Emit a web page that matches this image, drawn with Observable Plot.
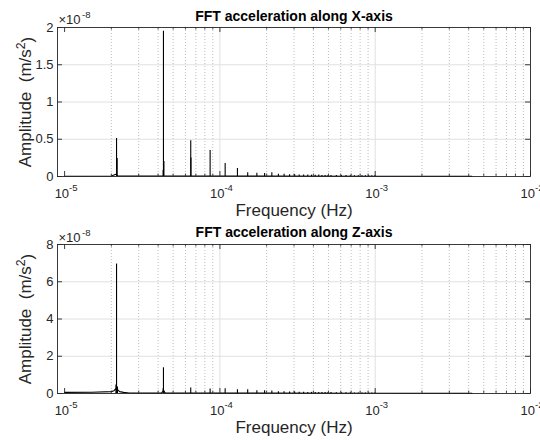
<!DOCTYPE html>
<html><head><meta charset="utf-8">
<script src="https://cdn.jsdelivr.net/npm/d3@7"></script>
<script src="https://cdn.jsdelivr.net/npm/@observablehq/plot@0.6"></script>
<style>
body{margin:0;background:#fff;}
#chart{width:540px;height:440px;overflow:hidden;}
#chart svg{display:block;}
</style></head><body><div id="chart"></div>
<script>
// ---- shared axis data ----
const xTickValues = [1e-5, 1e-4, 1e-3, 1e-2];
const xTickBase = "10";
const xTickExponents = ["-5", "-4", "-3", "-2"];
const xMinorTicks = [2e-5,3e-5,4e-5,5e-5,6e-5,7e-5,8e-5,9e-5,
                     2e-4,3e-4,4e-4,5e-4,6e-4,7e-4,8e-4,9e-4,
                     2e-3,3e-3,4e-3,5e-3,6e-3,7e-3,8e-3,9e-3];
const xLabel = "Frequency (Hz)";
const yLabel = "Amplitude  (m/s2)";
const yExponent = "-8";

// ---- panel 1: X-axis (amplitudes in units of 1e-8 m/s^2) ----
const titleX = "FFT acceleration along X-axis";
const yTicksX = [0, 0.5, 1, 1.5, 2];
const yTickLabelsX = ["0", "0.5", "1", "1.5", "2"];
const peakFreqX = [2.16e-5, 4.33e-5, 6.49e-5, 8.65e-5, 1.081e-4, 1.297e-4, 1.51e-4, 1.73e-4, 1.94e-4, 2.16e-4,
                   2.38e-4, 2.59e-4, 2.81e-4, 3.03e-4, 3.24e-4, 3.46e-4, 3.68e-4, 3.89e-4, 4.11e-4, 4.33e-4,
                   4.54e-4, 4.76e-4, 4.97e-4, 5.19e-4, 5.62e-4, 6.05e-4, 6.49e-4, 6.92e-4, 7.35e-4, 7.78e-4,
                   8.22e-4, 8.65e-4, 9.08e-4, 9.51e-4, 9.95e-4];
const peakAmpX  = [0.51, 1.95, 0.48, 0.35, 0.176, 0.109, 0.05, 0.045, 0.04, 0.05,
                   0.03, 0.03, 0.025, 0.025, 0.02, 0.02, 0.02, 0.018, 0.018, 0.02,
                   0.015, 0.015, 0.015, 0.015, 0.012, 0.012, 0.012, 0.01, 0.01, 0.01,
                   0.01, 0.01, 0.01, 0.01, 0.01];
const shoulderFreqX = [2.18e-5, 4.31e-5, 4.36e-5, 6.51e-5];
const shoulderAmpX  = [0.24, 0.08, 0.2, 0.25];
const baseFreqX = [1.0e-5, 2.0e-5, 2.14e-5, 2.2e-5, 5e-5, 1e-4, 1e-3, 4.2e-3];
const baseAmpX  = [0.004, 0.006, 0.03, 0.006, 0.006, 0.006, 0.004, 0.002];

// ---- panel 2: Z-axis ----
const titleZ = "FFT acceleration along Z-axis";
const yTicksZ = [0, 2, 4, 6, 8];
const yTickLabelsZ = ["0", "2", "4", "6", "8"];
const peakFreqZ = [2.16e-5, 4.33e-5, 6.49e-5, 8.65e-5, 1.081e-4, 1.297e-4, 1.51e-4, 1.73e-4, 1.94e-4, 2.16e-4,
                   2.38e-4, 2.59e-4, 2.81e-4, 3.03e-4, 3.24e-4, 3.46e-4, 3.68e-4, 3.89e-4, 4.11e-4, 4.33e-4,
                   4.54e-4, 4.76e-4, 4.97e-4, 5.19e-4, 5.62e-4, 6.05e-4, 6.49e-4, 6.92e-4, 7.35e-4, 7.78e-4,
                   8.22e-4, 8.65e-4, 9.08e-4, 9.51e-4, 9.95e-4];
const peakAmpZ  = [6.95, 1.38, 0.29, 0.24, 0.26, 0.2, 0.2, 0.15, 0.15, 0.13,
                   0.1, 0.09, 0.08, 0.08, 0.07, 0.07, 0.06, 0.06, 0.06, 0.06,
                   0.05, 0.05, 0.05, 0.05, 0.04, 0.04, 0.04, 0.04, 0.03, 0.03,
                   0.03, 0.03, 0.03, 0.03, 0.03];
const shoulderFreqZ = [2.14e-5, 2.19e-5, 4.31e-5, 4.36e-5];
const shoulderAmpZ  = [0.45, 0.35, 0.25, 0.15];
const baseFreqZ = [1.0e-5, 1.5e-5, 2.0e-5, 2.08e-5, 2.13e-5, 2.2e-5, 2.26e-5, 2.4e-5, 2.6e-5,
                   4.2e-5, 4.3e-5, 4.38e-5, 4.45e-5, 1e-4, 1e-3, 4.2e-3];
const baseAmpZ  = [0.06, 0.07, 0.1, 0.15, 0.25, 0.2, 0.1, 0.06, 0.03,
                   0.02, 0.12, 0.1, 0.02, 0.02, 0.01, 0.005];

const FONT = "'Liberation Sans', Arial, Helvetica, sans-serif";
const AXIS = "#262626";

function panel(o) {
  const W = 540, H = 220, mL = 57, mR = 10;
  const plotW = W - mL - mR;
  const plotH = H - o.marginTop - o.marginBottom;
  const spikes = o.peakF.map((f, i) => ({f, a: o.peakA[i]}))
    .concat(o.shF.map((f, i) => ({f, a: o.shA[i]})));
  const base = o.baseF.map((f, i) => ({f, a: o.baseA[i]}));
  const svg = Plot.plot({
    width: W, height: H, marginLeft: mL, marginRight: mR,
    marginTop: o.marginTop, marginBottom: o.marginBottom,
    style: {fontFamily: FONT, background: "#fff", color: "#000", overflow: "visible"},
    x: {type: "log", domain: [9e-6, 1e-2], axis: null},
    y: {domain: [0, o.yMax], axis: null},
    marks: [
      // grid
      Plot.ruleX(xMinorTicks, {x: d => d, stroke: "#b5b5b5", strokeDasharray: "1,2", strokeWidth: 0.9}),
      Plot.ruleX([1e-4, 1e-3], {x: d => d, stroke: "#e0e0e0", strokeWidth: 1}),
      Plot.ruleY(o.yTicks.slice(1, -1), {y: d => d, stroke: "#e0e0e0", strokeWidth: 1}),
      // data
      Plot.line(base, {x: "f", y: "a", stroke: "#000", strokeWidth: 1.1}),
      Plot.ruleX(spikes, {x: "f", y1: 0, y2: "a", stroke: "#000", strokeWidth: 1.1}),
      // box
      Plot.frame({stroke: AXIS, strokeWidth: 0.9}),
      // inward ticks
      Plot.ruleX(xTickValues, {x: d => d, insetTop: plotH - 5, stroke: AXIS, strokeWidth: 0.9}),
      Plot.ruleX(xTickValues, {x: d => d, insetBottom: plotH - 5, stroke: AXIS, strokeWidth: 0.9}),
      Plot.ruleX(xMinorTicks, {x: d => d, insetTop: plotH - 2.5, stroke: AXIS, strokeWidth: 0.8}),
      Plot.ruleX(xMinorTicks, {x: d => d, insetBottom: plotH - 2.5, stroke: AXIS, strokeWidth: 0.8}),
      Plot.ruleY(o.yTicks, {y: d => d, insetRight: plotW - 5, stroke: AXIS, strokeWidth: 0.9}),
      Plot.ruleY(o.yTicks, {y: d => d, insetLeft: plotW - 5, stroke: AXIS, strokeWidth: 0.9}),
      // y tick labels
      Plot.text(o.yTicks, {y: d => d, text: (d, i) => o.yTickLabels[i], frameAnchor: "left",
        textAnchor: "end", dx: -4, fontSize: 13, fill: AXIS}),
      // x tick labels 10^n
      Plot.text(xTickValues, {x: d => d, text: () => xTickBase, frameAnchor: "bottom",
        textAnchor: "end", lineAnchor: "bottom", dx: 4.5, dy: 21, fontSize: 13, fill: AXIS}),
      Plot.text(xTickValues, {x: d => d, text: (d, i) => xTickExponents[i], frameAnchor: "bottom",
        textAnchor: "start", lineAnchor: "bottom", dx: 4.5, dy: 14, fontSize: 9.5, fill: AXIS}),
      // exponent multiplier
      Plot.text(["×10"], {frameAnchor: "top-left", textAnchor: "start", lineAnchor: "bottom",
        dx: 1, dy: o.expDy, fontSize: 13, fill: AXIS}),
      Plot.text([yExponent], {frameAnchor: "top-left", textAnchor: "start", lineAnchor: "bottom",
        dx: 24.5, dy: o.expDy - 5.5, fontSize: 9.5, fill: AXIS}),
      // title
      Plot.text([o.title], {frameAnchor: "top", lineAnchor: "bottom", dy: o.titleDy,
        fontSize: 14, fontWeight: "bold", fill: "#000"}),
      // axis labels
      Plot.text([xLabel], {frameAnchor: "bottom", lineAnchor: "bottom", dy: 39, fontSize: 17, fill: AXIS}),
      Plot.text([yLabel], {frameAnchor: "left", rotate: -90, textAnchor: "middle", lineAnchor: "bottom", dx: -27,
        fontSize: 17, fill: AXIS})
    ]
  });
  // superscript 2 in the y label
  d3.select(svg).selectAll("text").filter(function () { return this.textContent === yLabel; })
    .each(function () {
      const t = d3.select(this);
      t.text(null).attr("text-anchor", "middle").style("white-space", "pre");
      t.append("tspan").text("Amplitude  (m/s");
      t.append("tspan").attr("dy", "-0.45em").attr("font-size", "0.72em").text("2");
      t.append("tspan").attr("dy", "0.45em").text(")");
    });
  return svg;
}

const root = document.getElementById("chart");
root.appendChild(panel({
  title: titleX, yMax: 2, yTicks: yTicksX, yTickLabels: yTickLabelsX,
  peakF: peakFreqX, peakA: peakAmpX, shF: shoulderFreqX, shA: shoulderAmpX,
  baseF: baseFreqX, baseA: baseAmpX, marginTop: 27, marginBottom: 44, expDy: -4, titleDy: -7
}));
root.appendChild(panel({
  title: titleZ, yMax: 8, yTicks: yTicksZ, yTickLabels: yTickLabelsZ,
  peakF: peakFreqZ, peakA: peakAmpZ, shF: shoulderFreqZ, shA: shoulderAmpZ,
  baseF: baseFreqZ, baseA: baseAmpZ, marginTop: 24, marginBottom: 47, expDy: -3, titleDy: -8
}));
</script></body></html>
